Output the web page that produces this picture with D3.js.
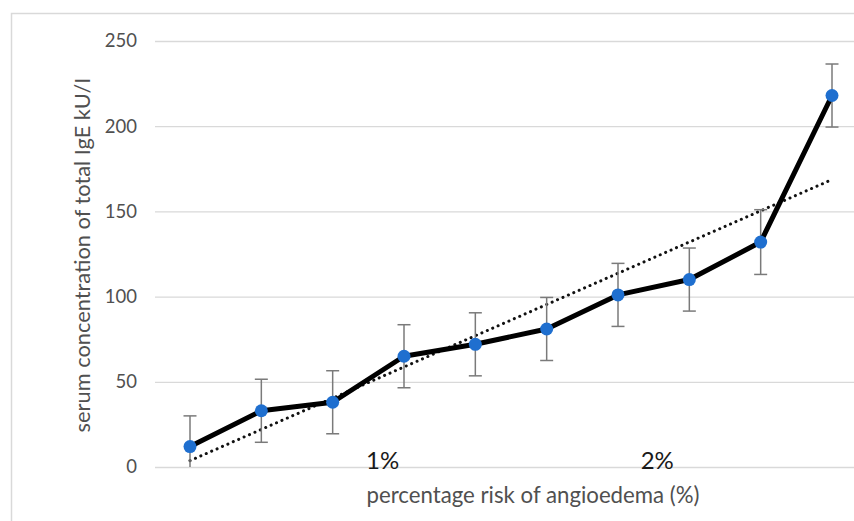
<!DOCTYPE html>
<html>
<head>
<meta charset="utf-8">
<script src="https://cdn.jsdelivr.net/npm/d3@7"></script>
<style>
  html, body { margin: 0; padding: 0; background: #fff; }
  svg { display: block; font-family: Lato, "Open Sans", sans-serif; }
</style>
</head>
<body>
<div id="chart"></div>
<script>
// data
let groups = [1, 2, 3, 4, 5, 6, 7, 8, 9, 10];
let igeMean = [12, 33, 38, 65, 72, 81, 101, 110, 132, 218];
let igeErr = [18, 18.5, 18.5, 18.5, 18.5, 18.5, 18.5, 18.5, 19, 18.5];
let yTicks = [0, 50, 100, 150, 200, 250];
let riskLabels = [{ label: '1%', at: 3.7 }, { label: '2%', at: 7.55 }];

let width = 854, height = 521;

let svg = d3.select('#chart').append('svg')
    .attr('width', width)
    .attr('height', height);

// chart border (cut off on the right / bottom)
svg.append('path')
    .attr('d', 'M11.5,' + height + 'V13.5H' + width)
    .attr('fill', 'none')
    .attr('stroke', '#d9d9d9')
    .attr('stroke-width', 1.5);

let x = d3.scalePoint()
    .domain(groups)
    .range([190, 832]);

let xLin = d3.scaleLinear()
    .domain([1, 10])
    .range([190, 832]);

let y = d3.scaleLinear()
    .domain([0, 250])
    .range([467, 41]);

let g = svg.append('g');

// gridlines
g.append('g').selectAll('line')
    .data(yTicks)
    .enter().append('line')
    .attr('x1', 155)
    .attr('x2', width)
    .attr('y1', function(d) { return y(d) + 0.5; })
    .attr('y2', function(d) { return y(d) + 0.5; })
    .attr('stroke', '#d9d9d9')
    .attr('stroke-width', 1.3);

// y axis labels
let yAxis = d3.axisLeft(y).tickValues(yTicks).tickSize(0).tickPadding(0);
g.append('g')
    .attr('transform', 'translate(137,0)')
    .call(yAxis)
    .call(function(a) {
        a.select('.domain').remove();
        a.selectAll('text')
            .attr('fill', '#505050')
            .attr('font-size', 18.5)
            .attr('font-family', 'Lato, "Open Sans", sans-serif');
    });

// clip to plot area
svg.append('defs').append('clipPath')
    .attr('id', 'plot')
    .append('rect')
    .attr('x', 150).attr('y', 20)
    .attr('width', width - 150).attr('height', y(0) - 20);

let plot = g.append('g').attr('clip-path', 'url(#plot)');

// linear trend line (least squares over the groups)
let mx = d3.mean(groups), my = d3.mean(igeMean);
let sxy = d3.sum(groups, function(d, i) { return (d - mx) * (igeMean[i] - my); });
let sxx = d3.sum(groups, function(d) { return (d - mx) * (d - mx); });
let slope = sxy / sxx, icpt = my - slope * mx;
let trend = [groups[0], groups[groups.length - 1]];

plot.append('line')
    .attr('x1', xLin(trend[0]))
    .attr('y1', y(icpt + slope * trend[0]))
    .attr('x2', xLin(trend[1]))
    .attr('y2', y(icpt + slope * trend[1]))
    .attr('stroke', '#111')
    .attr('stroke-width', 3)
    .attr('stroke-linecap', 'round')
    .attr('stroke-dasharray', '0.1 5.8');

// error bars
let err = plot.append('g').selectAll('g')
    .data(groups)
    .enter().append('g')
    .attr('stroke', '#7a7a7a')
    .attr('stroke-width', 1.5);

err.append('line')
    .attr('x1', function(d) { return x(d); })
    .attr('x2', function(d) { return x(d); })
    .attr('y1', function(d, i) { return y(igeMean[i] + igeErr[i]); })
    .attr('y2', function(d, i) { return y(igeMean[i] - igeErr[i]); });

err.append('line')
    .attr('x1', function(d) { return x(d) - 6.5; })
    .attr('x2', function(d) { return x(d) + 6.5; })
    .attr('y1', function(d, i) { return y(igeMean[i] + igeErr[i]); })
    .attr('y2', function(d, i) { return y(igeMean[i] + igeErr[i]); });

err.append('line')
    .attr('x1', function(d) { return x(d) - 6.5; })
    .attr('x2', function(d) { return x(d) + 6.5; })
    .attr('y1', function(d, i) { return y(igeMean[i] - igeErr[i]); })
    .attr('y2', function(d, i) { return y(igeMean[i] - igeErr[i]); });

// main line
let line = d3.line()
    .x(function(d) { return x(d); })
    .y(function(d, i) { return y(igeMean[i]); });

g.append('path')
    .datum(groups)
    .attr('d', line)
    .attr('fill', 'none')
    .attr('stroke', '#000')
    .attr('stroke-width', 5)
    .attr('stroke-linejoin', 'round');

// markers
g.append('g').selectAll('circle')
    .data(groups)
    .enter().append('circle')
    .attr('cx', function(d) { return x(d); })
    .attr('cy', function(d, i) { return y(igeMean[i]); })
    .attr('r', 6.5)
    .attr('fill', '#1f6fcf');

// risk labels
g.append('g').selectAll('text')
    .data(riskLabels)
    .enter().append('text')
    .attr('x', function(d) { return xLin(d.at); })
    .attr('y', 469)
    .attr('text-anchor', 'middle')
    .attr('font-size', 24)
    .attr('fill', '#1a1a1a')
    .text(function(d) { return d.label; });

// axis titles, sized to span the same length as in the source
function fitSize(sel, base, target) {
    sel.attr('font-size', base);
    let len = sel.node().getComputedTextLength();
    sel.attr('font-size', base * target / len);
}

let xTitle = g.append('text')
    .attr('x', 533)
    .attr('y', 503)
    .attr('text-anchor', 'middle')
    .attr('fill', '#505050')
    .text('percentage risk of angioedema (%)');
fitSize(xTitle, 20, 333);

let yTitle = g.append('text')
    .attr('transform', 'translate(90,255) rotate(-90)')
    .attr('text-anchor', 'middle')
    .attr('fill', '#505050')
    .text('serum concentration of total IgE kU/I');
fitSize(yTitle, 20, 355);
</script>
</body>
</html>
